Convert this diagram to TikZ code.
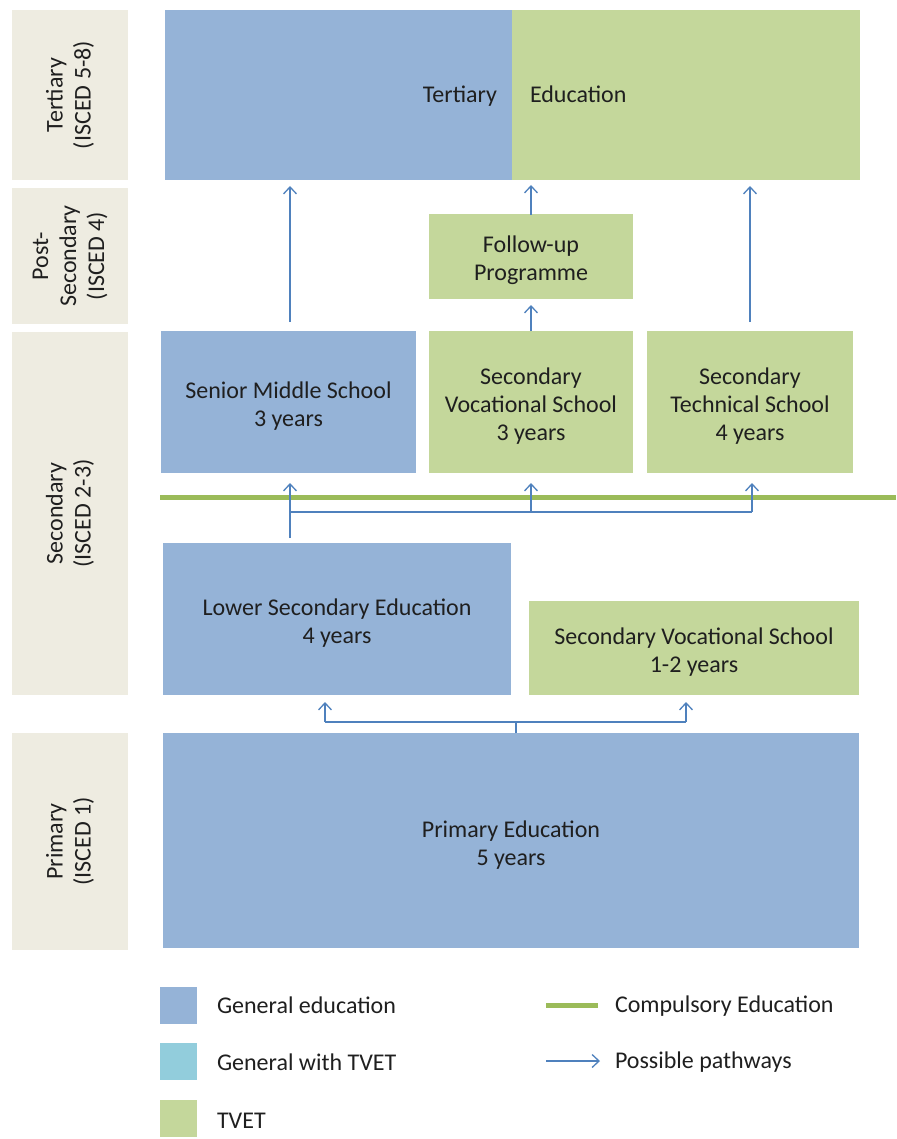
\documentclass[tikz,border=0pt]{standalone}
\usepackage{fontspec}
\setmainfont{Carlito}
\usetikzlibrary{arrows.meta}
\definecolor{genblue}{HTML}{95B3D7}
\definecolor{tvetgreen}{HTML}{C4D79B}
\definecolor{gentvet}{HTML}{92CDDC}
\definecolor{lvlgray}{HTML}{EEECE1}
\definecolor{compgreen}{HTML}{9BBB59}
\definecolor{pathblue}{HTML}{4F81BD}
\definecolor{txt}{HTML}{1F1F1F}
\newcommand\tpline{\rule{0pt}{25pt}}
\begin{document}
\begin{tikzpicture}[x=1pt,y=-1pt,
  every node/.style={inner sep=0pt,outer sep=0pt,text=txt,font=\fontsize{24}{28}\selectfont},
  gen/.style={fill=genblue,align=center},
  tvet/.style={fill=tvetgreen,align=center},
  lvl/.style={fill=lvlgray,align=center,rotate=90,minimum height=116pt},
  pw/.style={draw=pathblue,line width=1.3pt,-{Straight Barb[length=7pt,width=13pt,line width=1.3pt]}},
  pwline/.style={draw=pathblue,line width=1.3pt},
  comp/.style={draw=compgreen,line width=5pt},
  lgd/.style={anchor=west}]
\useasboundingbox (0,0) rectangle (896,1139);
% level labels
\node[lvl,minimum width=170pt] (lt) at (70,95) {Tertiary\\(ISCED 5-8)};
\node[lvl,minimum width=136pt] (lp) at (70,256) {Post-\\Secondary\\(ISCED 4)};
\node[lvl,minimum width=363pt] (ls) at (70,513.5) {Secondary\\(ISCED 2-3)};
\node[lvl,minimum width=217pt] (lpr) at (70,841.5) {Primary\\(ISCED 1)};
% tertiary
\node[gen,minimum width=347pt,minimum height=170pt,inner xsep=15pt,text width=317pt,align=right] (tertL) at (338.5,95) {\rule{0pt}{24pt}\rule[-8pt]{0pt}{22pt}Tertiary};
\node[tvet,minimum width=348pt,minimum height=170pt,inner xsep=18pt,text width=312pt,align=left] (tertR) at (686,95) {\rule{0pt}{24pt}\rule[-8pt]{0pt}{22pt}Education};
% post-secondary
\node[tvet,minimum width=204pt,minimum height=85pt] (follow) at (531,256.5) {\tpline Follow-up\\Programme};
% upper secondary
\node[gen,minimum width=255pt,minimum height=142pt] (senior) at (288.5,402) {\tpline Senior Middle School\\3 years};
\node[tvet,minimum width=204pt,minimum height=142pt] (secvoc) at (531,402) {\tpline Secondary\\Vocational School\\3 years};
\node[tvet,minimum width=206pt,minimum height=142pt] (sectech) at (750,402) {\tpline Secondary\\Technical School\\4 years};
% lower secondary
\node[gen,minimum width=348pt,minimum height=152pt] (lower) at (337,619) {\tpline Lower Secondary Education\\4 years};
\node[tvet,minimum width=330pt,minimum height=94pt] (secvoc12) at (694,648) {\tpline Secondary Vocational School\\1-2 years};
% primary
\node[gen,minimum width=696pt,minimum height=215pt] (primary) at (511,840.5) {\tpline Primary Education\\5 years};
% compulsory line
\coordinate (compL) at (160,497);
\coordinate (compR) at (896,497);
\draw[comp] (compL) -- (compR);
% pathways to tertiary
\draw[pw] ([xshift=1.5pt,yshift=9pt]senior.north) -- ([xshift=1.5pt,yshift=-6pt]senior.north |- tertL.south);
\draw[pw] ([yshift=-1pt]follow.north) -- ([yshift=-5pt]follow.north |- tertR.south);
\draw[pw] ([yshift=9pt]sectech.north) -- ([yshift=-6pt]sectech.north |- tertR.south);
\draw[pw] (secvoc.north) -- ([yshift=-6pt]follow.south);
% lower secondary to upper secondary
\coordinate (hub) at (290,512);
\draw[pw] ([xshift=1.5pt]senior.south |- lower.north) ++(0,-5) -- ([xshift=1.5pt,yshift=-10pt]senior.south);
\draw[pwline] ([xshift=1.5pt]senior.south |- hub) -- ([xshift=2pt]sectech.south |- hub);
\draw[pw] (secvoc.south |- hub) -- ([yshift=-10pt]secvoc.south);
\draw[pw] ([xshift=2pt]sectech.south |- hub) -- ([xshift=2pt,yshift=-10pt]sectech.south);
% primary to lower secondary
\coordinate (hub2) at (516,722);
\draw[pwline] ([xshift=5pt]primary.north) -- ([xshift=5pt]primary.north |- hub2);
\draw[pwline] ([xshift=-12pt]lower.south |- hub2) -- ([xshift=-8pt]secvoc12.south |- hub2);
\draw[pw] ([xshift=-12pt]lower.south |- hub2) -- ([xshift=-12pt,yshift=-7pt]lower.south);
\draw[pw] ([xshift=-8pt]secvoc12.south |- hub2) -- ([xshift=-8pt,yshift=-7pt]secvoc12.south);
% legend
\node[fill=genblue,minimum size=37pt] (sq1) at (178.5,1005.5) {};
\node[fill=gentvet,minimum size=37pt] (sq2) at (178.5,1061.5) {};
\node[fill=tvetgreen,minimum size=37pt] (sq3) at (178.5,1118.5) {};
\node[lgd] (t1) at (217,1005) {General education};
\node[lgd] (t2) at (217,1062) {General with TVET};
\node[lgd] (t3) at (217,1121) {TVET};
\coordinate (c1a) at (546,1005);
\coordinate (c1b) at (598,1005);
\coordinate (c2a) at (546,1061);
\coordinate (c2b) at (600,1061);
\draw[comp] (c1a) -- (c1b);
\draw[pw] (c2a) -- (c2b);
\node[lgd] (t4) at (615,1006) {Compulsory Education};
\node[lgd] (t5) at (615,1062) {Possible pathways};
\end{tikzpicture}
\end{document}
